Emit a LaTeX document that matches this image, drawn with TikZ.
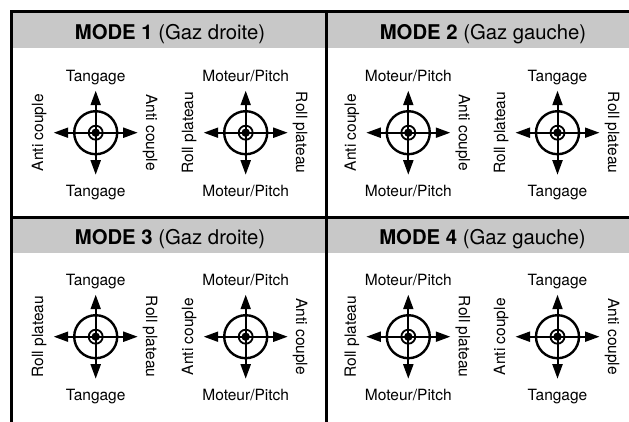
\documentclass[tikz,border=0pt]{standalone}
\usepackage{fontspec}
\setmainfont{TeX Gyre Heros}
\usetikzlibrary{arrows.meta}
\definecolor{hdrgray}{RGB}{200,200,200}
\tikzset{
  frameline/.style={line width=2.4pt, line cap=rect},
  hdr/.style={fill=hdrgray, draw=none},
  hdrtext/.style={anchor=base, inner sep=0pt, font=\fontsize{20.3}{22}\selectfont},
  lbl/.style={anchor=base, inner sep=0pt, font=\fontsize{15.5}{17}\selectfont},
  axis/.style={line width=2pt, {Triangle[length=14.5pt,width=10pt]}-{Triangle[length=14.5pt,width=10pt]}},
  ring/.style={line width=2.4pt},
  innerring/.style={line width=1.8pt},
}
\newcommand{\joystick}[7]{%
  \coordinate (#3c) at (#1,#2);
  \coordinate (#3l) at (#1-42,#2);
  \coordinate (#3r) at (#1+42,#2);
  \coordinate (#3t) at (#1,#2-42);
  \coordinate (#3b) at (#1,#2+42);
  \draw[ring] (#3c) circle[radius=21.5];
  \draw[innerring] (#3c) circle[radius=7];
  \fill (#3c) circle[radius=4.2];
  \draw[axis] (#3l) -- (#3r);
  \draw[axis] (#3t) -- (#3b);
  \node[lbl] (#3tl) at (#1,#2-51.7) {#4};
  \node[lbl] (#3bl) at (#1,#2+64) {#5};
  \node[lbl, rotate=90] (#3ll) at (#1-52.5,#2) {#6};
  \node[lbl, rotate=-90] (#3rl) at (#1+50.5,#2) {#7};
}
\begin{document}
\begin{tikzpicture}[x=1pt,y=-1pt]
\useasboundingbox (0,0) rectangle (629,421);
% headers
\fill[hdr] (11.5,11.5) rectangle (629,48);
\fill[hdr] (11.5,217.5) rectangle (629,253);
% frame lines
\draw[frameline] (11.5,421) -- (11.5,11.5) -- (629,11.5);
\draw[frameline] (326.5,11.5) -- (326.5,421);
\draw[frameline] (11.5,217.5) -- (629,217.5);
% header texts
\node[hdrtext] (h1) at (170,39.3) {\textbf{MODE 1} (Gaz droite)};
\node[hdrtext] (h2) at (483,39.3) {\textbf{MODE 2} (Gaz gauche)};
\node[hdrtext] (h3) at (170,244.3) {\textbf{MODE 3} (Gaz droite)};
\node[hdrtext] (h4) at (482.5,244.3) {\textbf{MODE 4} (Gaz gauche)};
% joysticks
\joystick{95.7}{132.7}{ja}{Tangage}{Tangage}{Anti couple}{Anti couple}
\joystick{245.7}{132.7}{jb}{Moteur/Pitch}{Moteur/Pitch}{Roll plateau}{Roll plateau}
\joystick{408.3}{132.7}{jc}{Moteur/Pitch}{Moteur/Pitch}{Anti couple}{Anti couple}
\joystick{557.5}{132.7}{jd}{Tangage}{Tangage}{Roll plateau}{Roll plateau}
\joystick{95.7}{336.7}{je}{Tangage}{Tangage}{Roll plateau}{Roll plateau}
\joystick{245.7}{336.7}{jf}{Moteur/Pitch}{Moteur/Pitch}{Anti couple}{Anti couple}
\joystick{408.3}{336.7}{jg}{Moteur/Pitch}{Moteur/Pitch}{Roll plateau}{Roll plateau}
\joystick{557.5}{336.7}{jh}{Tangage}{Tangage}{Anti couple}{Anti couple}
\end{tikzpicture}
\end{document}
